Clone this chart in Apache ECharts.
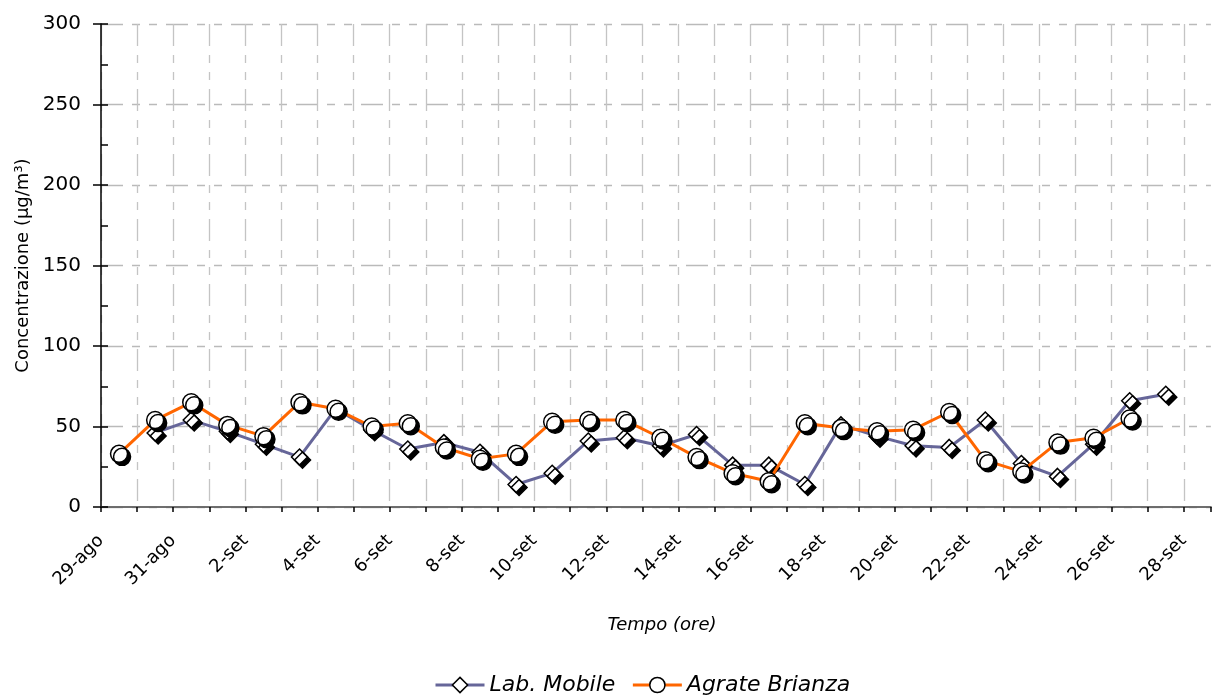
<!DOCTYPE html>
<html>
<head>
<meta charset="utf-8">
<script src="https://cdn.jsdelivr.net/npm/echarts@6/dist/echarts.min.js"></script>
<style>html,body{margin:0;padding:0;background:#fff}#chart{width:1213px;height:696px}</style>
</head>
<body>
<div id="chart"></div>
<script>
// Day tick labels (29-ago .. 28-set); each day occupies one unit on the x axis
const dates = ['29-ago','30-ago','31-ago','1-set','2-set','3-set','4-set','5-set','6-set','7-set',
  '8-set','9-set','10-set','11-set','12-set','13-set','14-set','15-set','16-set','17-set',
  '18-set','19-set','20-set','21-set','22-set','23-set','24-set','25-set','26-set','27-set','28-set'];
// Daily values (one per day, starting 29-ago)
const labMobile = [null,46,54,47,39,31,61,48,36,40,34,14,21,41,43,38,45,26,26,14,51,44,38,37,54,27,19,39,66,70];
const agrateBrianza = [33,54,65,51,44,65,61,50,52,37,30,33,53,54,54,43,31,21,16,52,49,47,48,59,29,22,40,43,55,null];
const seriesNames = ['Lab. Mobile','Agrate Brianza'];
const yTicks = [0,50,100,150,200,250,300];

function toPoints(arr){
  const out = [];
  arr.forEach((v,i)=>{ if(v!==null) out.push([i+0.5, v]); });
  return out;
}

const FONT = 'DejaVu Sans';
const chart = echarts.init(document.getElementById('chart'), null, {renderer:'canvas'});
const markerStyle = {color:'#ffffff', borderColor:'#000000', borderWidth:1.5,
  shadowColor:'#000000', shadowBlur:0, shadowOffsetX:3, shadowOffsetY:3};
const option = {
  animation:false,
  backgroundColor:'#ffffff',
  grid:{left:101, right:0, top:24, bottom:189, containLabel:false},
  legend:{
    data:seriesNames, top:669, left:429, itemWidth:49, itemHeight:19, itemGap:16,
    textStyle:{fontFamily:FONT, fontSize:22, fontStyle:'italic', color:'#000'},
    lineStyle:{width:3},
    itemStyle:{shadowColor:'rgba(0,0,0,0)', shadowOffsetX:0, shadowOffsetY:0, borderWidth:1.5}
  },
  xAxis:[{
    type:'value', min:0, max:30.75, interval:1,
    name:'Tempo (ore)', nameLocation:'middle', nameGap:109,
    nameTextStyle:{fontFamily:FONT, fontSize:18, fontStyle:'italic', color:'#000', padding:[0,0,0,12]},
    axisLine:{show:true, onZero:false, lineStyle:{color:'#000', width:1.5}},
    axisTick:{show:true, length:5, lineStyle:{color:'#000', width:1.5}},
    axisLabel:{rotate:45, margin:31, fontFamily:FONT, fontSize:18, color:'#000',
      formatter:function(v){ return (Number.isInteger(v) && v%2===0 && dates[v]) ? dates[v] : ''; }},
    splitLine:{show:true, showMaxLine:false, lineStyle:{color:'#c4c4c4', width:1.3, type:[22,9,8,9,8,9]}}
  },{
    type:'value', position:'top', min:0, max:30.75,
    axisLine:{show:true, lineStyle:{color:'#808080', width:1.5}},
    axisTick:{show:false}, axisLabel:{show:false}, splitLine:{show:false}
  }],
  yAxis:[{
    type:'value', min:yTicks[0], max:yTicks[yTicks.length-1], interval:50,
    name:'Concentrazione (µg/m³)', nameLocation:'middle', nameGap:68,
    nameTextStyle:{fontFamily:FONT, fontSize:18, color:'#000'},
    axisLine:{show:true, lineStyle:{color:'#000', width:1.5}},
    axisTick:{show:true, length:8, lineStyle:{color:'#000', width:1.5}},
    axisLabel:{margin:20, fontFamily:FONT, fontSize:20, color:'#000'},
    splitLine:{show:true, lineStyle:{color:'#bababa', width:1.3, type:[22,9,8,9,8,9]}}
  },{
    type:'value', position:'left', min:0, max:300, interval:25,
    axisLine:{show:false},
    axisTick:{show:true, inside:true, length:7, lineStyle:{color:'#000', width:1.5}},
    axisLabel:{show:false}, splitLine:{show:false}
  }],
  series:[{
    name:seriesNames[0], type:'line', data:toPoints(labMobile),
    symbol:'diamond', symbolSize:16, showAllSymbol:true,
    lineStyle:{color:'#666699', width:3},
    itemStyle:markerStyle, color:'#666699', z:2
  },{
    name:seriesNames[1], type:'line', data:toPoints(agrateBrianza),
    symbol:'circle', symbolSize:17, showAllSymbol:true,
    lineStyle:{color:'#ff6600', width:3},
    itemStyle:markerStyle, color:'#ff6600', z:3
  }]
};
chart.setOption(option);
</script>
</body>
</html>
